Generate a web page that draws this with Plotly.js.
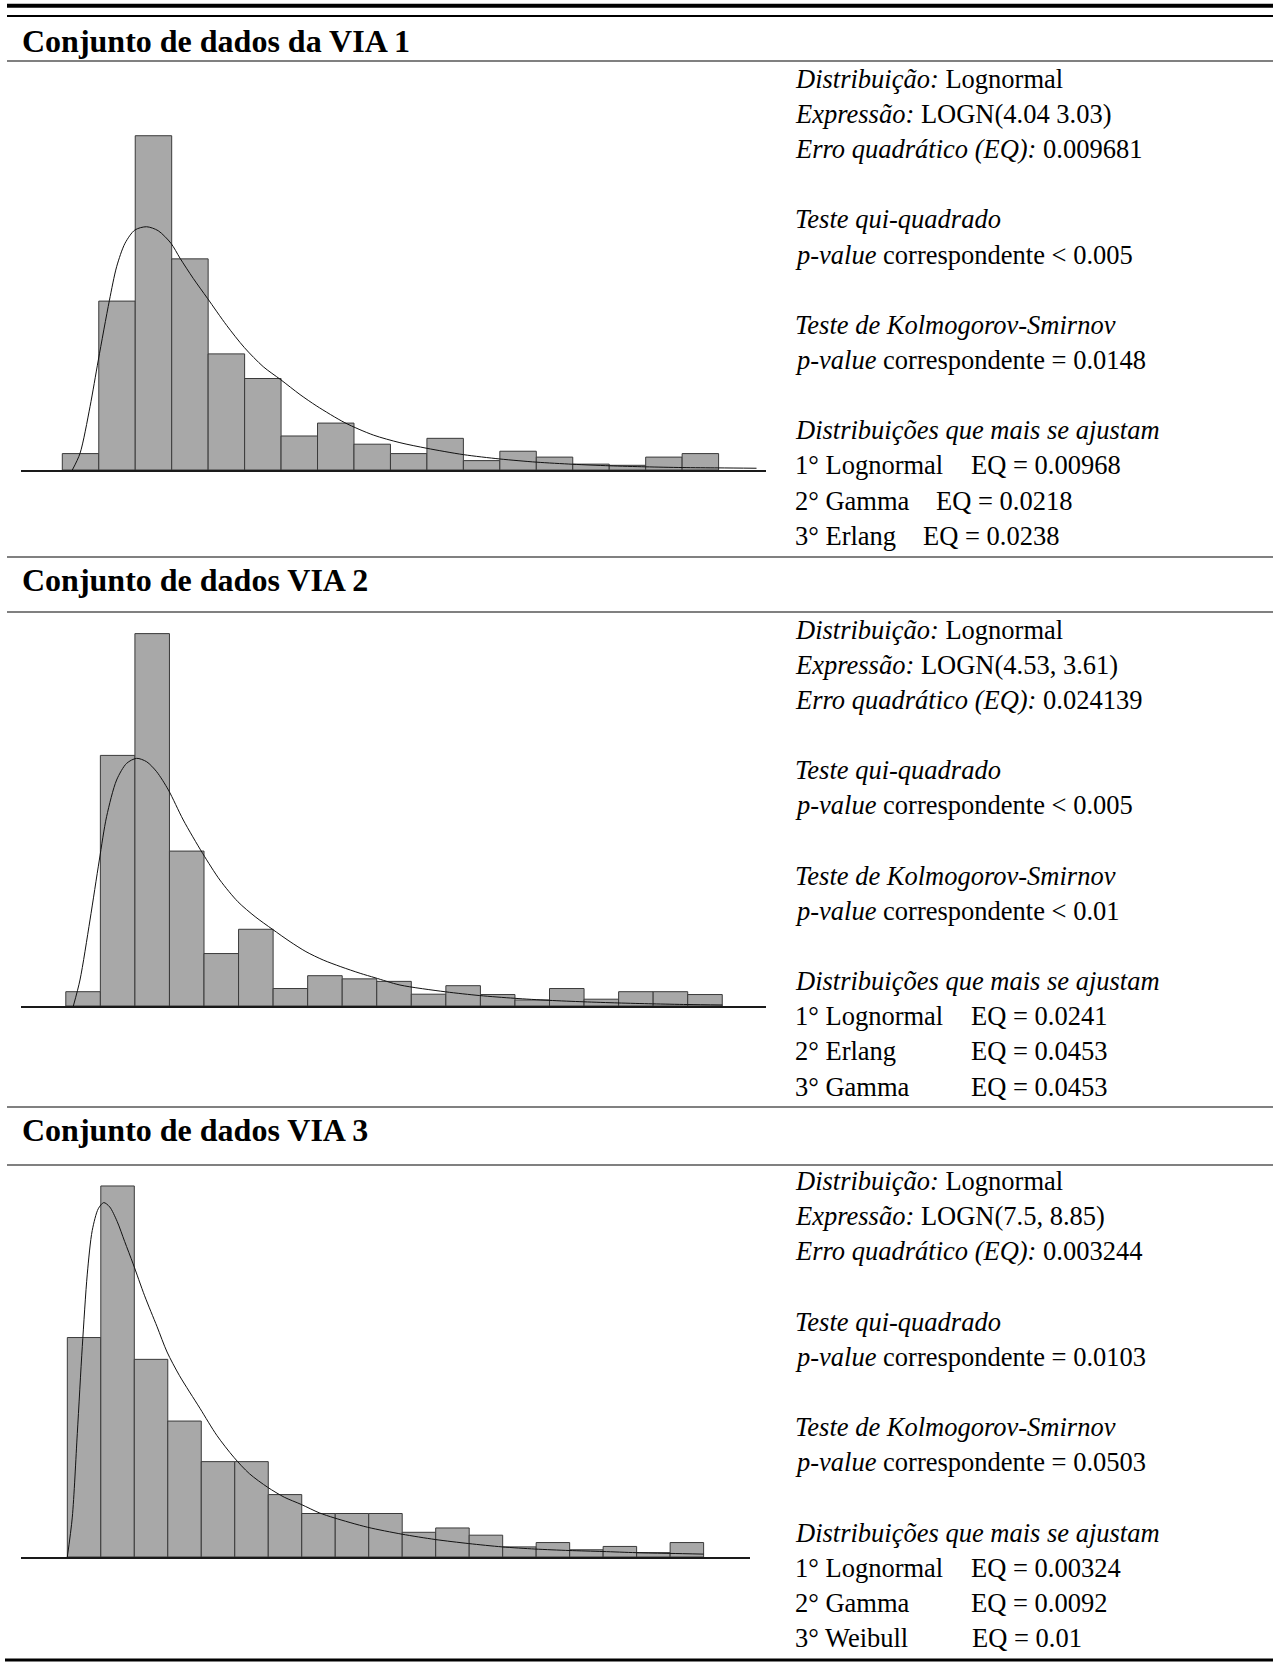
<!DOCTYPE html>
<html>
<head>
<meta charset="utf-8">
<script src="https://cdn.plot.ly/plotly-3.0.1.min.js"></script>
<style>
  html, body { margin: 0; padding: 0; background: #ffffff; }
  #chart { width: 1273px; height: 1669px; }
</style>
</head>
<body>
<div id="chart"></div>
<script>
// ---------------- DATA ----------------
// Relative frequency of each histogram bin (bins of equal width, index units)
const via1Freq = [0.014, 0.144, 0.285, 0.180, 0.099, 0.078, 0.029, 0.040, 0.022, 0.014, 0.027, 0.008, 0.016, 0.011, 0.005, 0.004, 0.011, 0.014];
const via2Freq = [0.0126, 0.2208, 0.3281, 0.1365, 0.0462, 0.0676, 0.0154, 0.0267, 0.0239, 0.0217, 0.0104, 0.0179, 0.0101, 0.0053, 0.0154, 0.0060, 0.0126, 0.0126, 0.0101];
const via3Freq = [0.1519, 0.2568, 0.1368, 0.0941, 0.0660, 0.0660, 0.0432, 0.0301, 0.0301, 0.0301, 0.0171, 0.0201, 0.0151, 0.0070, 0.0100, 0.0050, 0.0073, 0.0030, 0.0100];

// Fitted lognormal curves (x in bin units)
const via1CurveX = [0.274, 0.486, 0.76, 0.988, 1.29, 1.49, 1.72, 1.99, 2.31, 2.63, 2.98, 3.23, 3.59, 3.98, 4.51, 4.99, 5.51, 5.99, 6.52, 6.98, 7.75, 8.53, 9.26, 10.0, 11.0, 12.0, 13.0, 14.0, 15.0, 16.0, 17.0, 18.0, 19.04];
const via1CurveY = [0, 0.0142, 0.054, 0.0938, 0.1443, 0.1733, 0.1933, 0.2046, 0.2074, 0.2040, 0.1933, 0.1805, 0.1634, 0.1464, 0.1232, 0.1045, 0.0881, 0.0770, 0.0643, 0.0545, 0.0403, 0.0298, 0.0233, 0.0185, 0.0131, 0.0094, 0.0067, 0.0049, 0.0036, 0.0027, 0.0021, 0.0018, 0.0015];

const via2CurveX = [0.218, 0.41, 0.70, 0.97, 1.18, 1.47, 1.76, 2.05, 2.34, 2.63, 2.97, 3.40, 3.96, 4.46, 4.98, 5.48, 5.98, 6.49, 6.95, 7.45, 7.96, 8.52, 8.95, 9.67, 10.99, 11.98, 12.98, 13.98, 14.99, 15.98, 16.98, 17.99, 19.0];
const via2CurveY = [0, 0.0229, 0.0758, 0.1286, 0.1668, 0.1991, 0.2138, 0.2182, 0.2152, 0.2064, 0.1903, 0.1639, 0.1345, 0.1110, 0.0919, 0.0787, 0.0676, 0.0567, 0.0479, 0.0405, 0.0346, 0.0288, 0.0249, 0.0185, 0.0125, 0.0092, 0.0068, 0.0050, 0.0037, 0.0027, 0.0019, 0.0013, 0.0009];

const via3CurveX = [0, 0.149, 0.298, 0.447, 0.596, 0.744, 0.923, 1.087, 1.266, 1.489, 1.712, 1.965, 2.308, 2.680, 2.978, 3.350, 3.961, 4.467, 4.973, 5.435, 5.986, 6.477, 6.983, 7.519, 7.966, 8.964, 9.991, 10.989, 11.986, 12.984, 13.967, 14.979, 15.992, 16.989, 17.987, 19.0];
const via3CurveY = [0, 0.0276, 0.0854, 0.1456, 0.1958, 0.2260, 0.2410, 0.2453, 0.2423, 0.2322, 0.2184, 0.2029, 0.1808, 0.1594, 0.1419, 0.1255, 0.1029, 0.0841, 0.0690, 0.0577, 0.0482, 0.0414, 0.0364, 0.0306, 0.0271, 0.0206, 0.0158, 0.0121, 0.0093, 0.0070, 0.0055, 0.0045, 0.0038, 0.0030, 0.0025, 0.0020];

// Section titles
const sectionTitles = ["Conjunto de dados da VIA 1", "Conjunto de dados VIA 2", "Conjunto de dados VIA 3"];

// Side-panel texts (one entry per text line slot; "" = blank line)
const via1Info = ["<i>Distribuição:</i> Lognormal", "<i>Expressão:</i> LOGN(4.04 3.03)", "<i>Erro quadrático (EQ):</i> 0.009681", "",
  "<i>Teste qui-quadrado</i>", "<i>p-value</i> correspondente &lt; 0.005", "",
  "<i>Teste de Kolmogorov-Smirnov</i>", "<i>p-value</i> correspondente = 0.0148", "",
  "<i>Distribuições que mais se ajustam</i>"];
const via2Info = ["<i>Distribuição:</i> Lognormal", "<i>Expressão:</i> LOGN(4.53, 3.61)", "<i>Erro quadrático (EQ):</i> 0.024139", "",
  "<i>Teste qui-quadrado</i>", "<i>p-value</i> correspondente &lt; 0.005", "",
  "<i>Teste de Kolmogorov-Smirnov</i>", "<i>p-value</i> correspondente &lt; 0.01", "",
  "<i>Distribuições que mais se ajustam</i>"];
const via3Info = ["<i>Distribuição:</i> Lognormal", "<i>Expressão:</i> LOGN(7.5, 8.85)", "<i>Erro quadrático (EQ):</i> 0.003244", "",
  "<i>Teste qui-quadrado</i>", "<i>p-value</i> correspondente = 0.0103", "",
  "<i>Teste de Kolmogorov-Smirnov</i>", "<i>p-value</i> correspondente = 0.0503", "",
  "<i>Distribuições que mais se ajustam</i>"];

const via1Rank = ["1° Lognormal", "2° Gamma", "3° Erlang"];
const via1RankEQ = ["EQ = 0.00968", "EQ = 0.0218", "EQ = 0.0238"];
const via2Rank = ["1° Lognormal", "2° Erlang", "3° Gamma"];
const via2RankEQ = ["EQ = 0.0241", "EQ = 0.0453", "EQ = 0.0453"];
const via3Rank = ["1° Lognormal", "2° Gamma", "3° Weibull"];
const via3RankEQ = ["EQ = 0.00324", "EQ = 0.0092", "EQ = 0.01"];

// ---------------- LAYOUT HELPERS ----------------
const W = 1273, H = 1669;
const px = v => v / W;          // horizontal pixel -> paper
const py = v => 1 - v / H;      // vertical pixel -> paper

const SERIF = "Liberation Serif, Times New Roman, serif";
const BAR_FILL = "#a8a8a8";
const BAR_EDGE = "#3a3a3a";

function centers(arr) { return arr.map((_, i) => i + 0.5); }

const traces = [];
function addHistogram(freq, cx, cy, xa, ya) {
  traces.push({
    type: "bar", x: centers(freq), y: freq, width: 1,
    xaxis: xa, yaxis: ya,
    marker: { color: BAR_FILL, line: { color: BAR_EDGE, width: 1 } },
    hoverinfo: "skip"
  });
  traces.push({
    type: "scatter", mode: "lines", x: cx, y: cy,
    xaxis: xa, yaxis: ya,
    line: { color: "#111111", width: 1, shape: "spline", smoothing: 0.8 },
    hoverinfo: "skip"
  });
}
addHistogram(via1Freq, via1CurveX, via1CurveY, "x", "y");
addHistogram(via2Freq, via2CurveX, via2CurveY, "x2", "y2");
addHistogram(via3Freq, via3CurveX, via3CurveY, "x3", "y3");

function xAxis(anchor, left, right, range) {
  return {
    anchor: anchor, domain: [px(left), px(right)], range: range,
    showgrid: false, zeroline: false, showticklabels: false, ticks: "",
    showline: true, linecolor: "#1a1a1a", linewidth: 1.5, fixedrange: true
  };
}
function yAxis(anchor, top, bottom, range) {
  return {
    anchor: anchor, domain: [py(bottom), py(top)], range: range,
    showgrid: false, zeroline: false, showticklabels: false, ticks: "",
    showline: false, fixedrange: true
  };
}

// Panel geometry (pixels)
const panels = [
  { left: 21, right: 766, xr: [-1.133, 19.30], top: 120, base: 470, yr: [0, 0.2984] },
  { left: 21, right: 766, xr: [-1.297, 20.266], top: 620, base: 1006, yr: [0, 0.3401] },
  { left: 21, right: 750, xr: [-1.383, 20.385], top: 1175, base: 1557, yr: [0, 0.2644] }
];

const annotations = [];
const shapes = [];

function hline(y, width, color, x0, x1) {
  shapes.push({
    type: "line", xref: "paper", yref: "paper",
    x0: px(x0 === undefined ? 7 : x0), x1: px(x1 === undefined ? W : x1),
    y0: py(y), y1: py(y),
    line: { color: color, width: width }
  });
}
// Rules
hline(5.8, 4, "#000000");
hline(16, 2, "#000000");
hline(61, 2, "#808080");
hline(557, 2, "#808080");
hline(612, 2, "#808080");
hline(1107, 2, "#808080");
hline(1165, 2, "#808080");
hline(1660, 3, "#000000", 5, W);

// Titles
const titleBaselines = [48.3, 587.3, 1137.4];
sectionTitles.forEach((t, i) => {
  annotations.push({
    xref: "paper", yref: "paper", x: px(20), y: py(titleBaselines[i] - 7.5),
    xanchor: "left", yanchor: "middle", showarrow: false,
    text: "<b>" + t + "</b>",
    font: { family: SERIF, size: 32, color: "#000000" }
  });
});

// Side texts
const infoSets = [
  { info: via1Info, rank: via1Rank, eq: via1RankEQ, base: 87.8, eqx: [971.7, 936.7, 924] },
  { info: via2Info, rank: via2Rank, eq: via2RankEQ, base: 638.6, eqx: [971.7, 971.7, 971.7] },
  { info: via3Info, rank: via3Rank, eq: via3RankEQ, base: 1190, eqx: [971.7, 971.7, 973.3] }
];
const PITCH = 35.15;
const TXT = 26.5;
const TEXT_X = 793;
infoSets.forEach(set => {
  const lineY = k => py(set.base + k * PITCH - 9);
  set.info.forEach((t, k) => {
    if (!t) return;
    annotations.push({
      xref: "paper", yref: "paper", x: px(TEXT_X), y: lineY(k),
      xanchor: "left", yanchor: "middle", showarrow: false, text: t,
      font: { family: SERIF, size: TXT, color: "#000000" }
    });
  });
  set.rank.forEach((t, j) => {
    const k = set.info.length + j;
    annotations.push({
      xref: "paper", yref: "paper", x: px(TEXT_X), y: lineY(k),
      xanchor: "left", yanchor: "middle", showarrow: false, text: t,
      font: { family: SERIF, size: TXT, color: "#000000" }
    });
    annotations.push({
      xref: "paper", yref: "paper", x: px(set.eqx[j] - 3), y: lineY(k),
      xanchor: "left", yanchor: "middle", showarrow: false, text: set.eq[j],
      font: { family: SERIF, size: TXT, color: "#000000" }
    });
  });
});

const layout = {
  width: W, height: H,
  margin: { l: 0, r: 0, t: 0, b: 0, pad: 0 },
  paper_bgcolor: "#ffffff", plot_bgcolor: "rgba(0,0,0,0)",
  showlegend: false, bargap: 0, barmode: "overlay",
  xaxis: xAxis("y", panels[0].left, panels[0].right, panels[0].xr),
  yaxis: yAxis("x", panels[0].top, panels[0].base, panels[0].yr),
  xaxis2: xAxis("y2", panels[1].left, panels[1].right, panels[1].xr),
  yaxis2: yAxis("x2", panels[1].top, panels[1].base, panels[1].yr),
  xaxis3: xAxis("y3", panels[2].left, panels[2].right, panels[2].xr),
  yaxis3: yAxis("x3", panels[2].top, panels[2].base, panels[2].yr),
  annotations: annotations,
  shapes: shapes
};

Plotly.newPlot("chart", traces, layout, { staticPlot: true, displayModeBar: false, responsive: false });
</script>
</body>
</html>
